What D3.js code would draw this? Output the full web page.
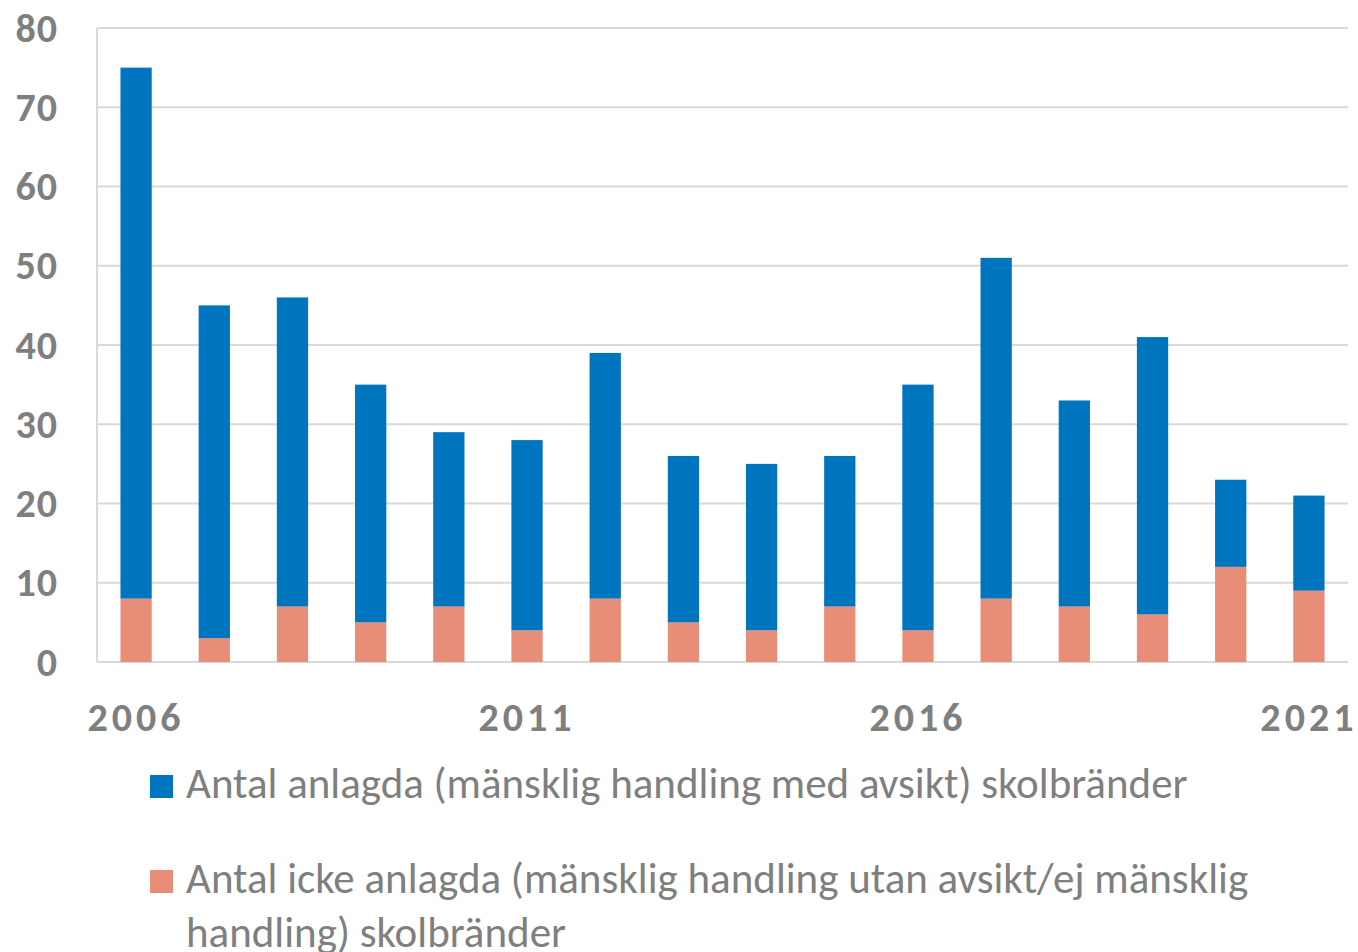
<!DOCTYPE html>
<html>
<head>
<meta charset="utf-8">
<script src="https://d3js.org/d3.v7.min.js"></script>
<style>
  body { margin: 0; background: #fff; }
  text { font-family: Carlito, "Open Sans", "Liberation Sans", sans-serif; fill: #7f7f7f; }
</style>
</head>
<body>
<svg id="chart" width="1358" height="952"></svg>
<script>
// years on the x axis
const years = [2006, 2007, 2008, 2009, 2010, 2011, 2012, 2013, 2014, 2015, 2016, 2017, 2018, 2019, 2020, 2021];
// non-arson fires (bottom, salmon)
const notArson = [8, 3, 7, 5, 7, 4, 8, 5, 4, 7, 4, 8, 7, 6, 12, 9];
// arson fires (top, blue)
const arson = [67, 42, 39, 30, 22, 24, 31, 21, 21, 19, 31, 43, 26, 35, 11, 12];
const yTicks = [0, 10, 20, 30, 40, 50, 60, 70, 80];
const xLabelYears = [2006, 2011, 2016, 2021];

const seriesNames = [
  "Antal anlagda (mänsklig handling med avsikt) skolbränder",
  "Antal icke anlagda (mänsklig handling utan avsikt/ej mänsklig handling) skolbränder"
];
const colors = { arson: "#0075bf", notArson: "#e88d77" };

const svg = d3.select("#chart");
const margin = { top: 28, right: 10, bottom: 290, left: 97 };
const width = 1358, height = 952;

const x = d3.scaleBand()
  .domain(years)
  .range([margin.left, width - margin.right])
  .paddingInner(0.6)
  .paddingOuter(0.3);

const y = d3.scaleLinear()
  .domain([0, 80])
  .range([height - margin.bottom, margin.top]);

// gridlines
svg.append("g")
  .selectAll("line")
  .data(yTicks)
  .join("line")
  .attr("x1", margin.left)
  .attr("x2", width - margin.right)
  .attr("y1", (d) => y(d))
  .attr("y2", (d) => y(d))
  .attr("stroke", "#d9d9d9")
  .attr("stroke-width", 2);

// left axis line
svg.append("line")
  .attr("x1", margin.left)
  .attr("x2", margin.left)
  .attr("y1", y(80))
  .attr("y2", y(0))
  .attr("stroke", "#d9d9d9")
  .attr("stroke-width", 2);

// y labels
svg.append("g")
  .selectAll("text")
  .data(yTicks)
  .join("text")
  .attr("x", 58)
  .attr("y", (d) => y(d))
  .attr("dy", "0.34em")
  .attr("text-anchor", "end")
  .style("font-size", "40px")
  .style("font-weight", "bold")
  .style("letter-spacing", "1px")
  .text((d) => d);

// stacked bars
const table = years.map((yr, i) => ({ year: yr, notArson: notArson[i], arson: arson[i] }));
const stacked = d3.stack().keys(["notArson", "arson"])(table);

svg.append("g")
  .selectAll("g")
  .data(stacked)
  .join("g")
  .attr("fill", (s) => colors[s.key])
  .selectAll("rect")
  .data((s) => s)
  .join("rect")
  .attr("x", (d) => x(d.data.year))
  .attr("width", x.bandwidth())
  .attr("y", (d) => y(d[1]))
  .attr("height", (d) => y(d[0]) - y(d[1]));

// x labels
svg.append("g")
  .selectAll("text")
  .data(xLabelYears)
  .join("text")
  .attr("x", (d) => x(d) + x.bandwidth() / 2)
  .attr("y", 731)
  .attr("text-anchor", "middle")
  .style("font-size", "40px")
  .style("font-weight", "bold")
  .style("letter-spacing", "4px")
  .text((d) => d);

// legend
const legend = svg.append("g");
legend.append("rect").attr("x", 150).attr("y", 775).attr("width", 23).attr("height", 23).attr("fill", colors.arson);
legend.append("text").attr("x", 186).attr("y", 798).style("font-size", "43px").text(seriesNames[0]);

legend.append("rect").attr("x", 150).attr("y", 870).attr("width", 23).attr("height", 23).attr("fill", colors.notArson);
const t2 = legend.append("text").attr("x", 186).attr("y", 893).style("font-size", "43px");
t2.append("tspan").attr("x", 186).text("Antal icke anlagda (mänsklig handling utan avsikt/ej mänsklig");
t2.append("tspan").attr("x", 186).attr("dy", 54).text("handling) skolbränder");
</script>
</body>
</html>
